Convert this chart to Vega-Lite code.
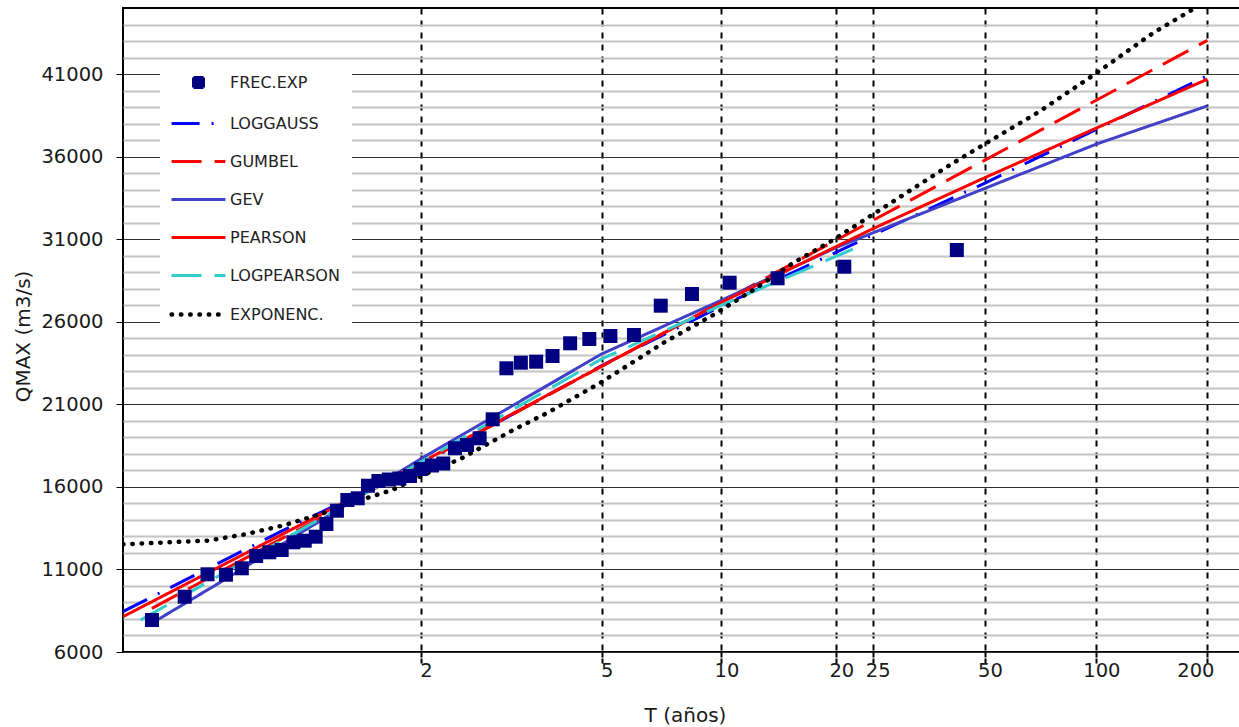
{
  "$schema": "https://vega.github.io/schema/vega-lite/v6.json",
  "width": 1117,
  "height": 644,
  "autosize": "none",
  "padding": {"left": 123, "top": 8, "right": 0, "bottom": 75},
  "background": "white",
  "config": {
    "view": {"stroke": "black", "strokeWidth": 2},
    "font": "DejaVu Sans"
  },
  "data": {
    "values": [
      {"serie": "FREC.EXP", "u": 3.7255, "q": 30345},
      {"serie": "FREC.EXP", "u": 3.0203, "q": 29334},
      {"serie": "FREC.EXP", "u": 2.6023, "q": 28631},
      {"serie": "FREC.EXP", "u": 2.3017, "q": 28365},
      {"serie": "FREC.EXP", "u": 2.0655, "q": 27680},
      {"serie": "FREC.EXP", "u": 1.8698, "q": 26972},
      {"serie": "FREC.EXP", "u": 1.7020, "q": 25198},
      {"serie": "FREC.EXP", "u": 1.5544, "q": 25137},
      {"serie": "FREC.EXP", "u": 1.4223, "q": 24955},
      {"serie": "FREC.EXP", "u": 1.3022, "q": 24695},
      {"serie": "FREC.EXP", "u": 1.1918, "q": 23926},
      {"serie": "FREC.EXP", "u": 1.0892, "q": 23581},
      {"serie": "FREC.EXP", "u": 0.9933, "q": 23520},
      {"serie": "FREC.EXP", "u": 0.9027, "q": 23181},
      {"serie": "FREC.EXP", "u": 0.8168, "q": 20092},
      {"serie": "FREC.EXP", "u": 0.7349, "q": 18942},
      {"serie": "FREC.EXP", "u": 0.6562, "q": 18536},
      {"serie": "FREC.EXP", "u": 0.5805, "q": 18336},
      {"serie": "FREC.EXP", "u": 0.5072, "q": 17416},
      {"serie": "FREC.EXP", "u": 0.4361, "q": 17294},
      {"serie": "FREC.EXP", "u": 0.3665, "q": 17082},
      {"serie": "FREC.EXP", "u": 0.2985, "q": 16659},
      {"serie": "FREC.EXP", "u": 0.2316, "q": 16507},
      {"serie": "FREC.EXP", "u": 0.1657, "q": 16447},
      {"serie": "FREC.EXP", "u": 0.1004, "q": 16356},
      {"serie": "FREC.EXP", "u": 0.0355, "q": 16071},
      {"serie": "FREC.EXP", "u": -0.0292, "q": 15308},
      {"serie": "FREC.EXP", "u": -0.0940, "q": 15205},
      {"serie": "FREC.EXP", "u": -0.1593, "q": 14557},
      {"serie": "FREC.EXP", "u": -0.2253, "q": 13752},
      {"serie": "FREC.EXP", "u": -0.2925, "q": 12983},
      {"serie": "FREC.EXP", "u": -0.3612, "q": 12740},
      {"serie": "FREC.EXP", "u": -0.4321, "q": 12643},
      {"serie": "FREC.EXP", "u": -0.5057, "q": 12177},
      {"serie": "FREC.EXP", "u": -0.5831, "q": 12038},
      {"serie": "FREC.EXP", "u": -0.6657, "q": 11814},
      {"serie": "FREC.EXP", "u": -0.7553, "q": 11069},
      {"serie": "FREC.EXP", "u": -0.8549, "q": 10680},
      {"serie": "FREC.EXP", "u": -0.9704, "q": 10706},
      {"serie": "FREC.EXP", "u": -1.1133, "q": 9349},
      {"serie": "FREC.EXP", "u": -1.3185, "q": 7938},

      {"serie": "LOGGAUSS", "u": -1.5, "q": 8450},
      {"serie": "LOGGAUSS", "u": -1.0, "q": 10900},
      {"serie": "LOGGAUSS", "u": -0.5, "q": 13350},
      {"serie": "LOGGAUSS", "u": 0.3665, "q": 17350},
      {"serie": "LOGGAUSS", "u": 1.4999, "q": 23350},
      {"serie": "LOGGAUSS", "u": 2.2504, "q": 26950},
      {"serie": "LOGGAUSS", "u": 3.1985, "q": 31250},
      {"serie": "LOGGAUSS", "u": 3.9019, "q": 34400},
      {"serie": "LOGGAUSS", "u": 4.6001, "q": 37650},
      {"serie": "LOGGAUSS", "u": 5.2958, "q": 40900},

      {"serie": "GUMBEL", "u": -1.3185, "q": 8640},
      {"serie": "GUMBEL", "u": 0.3665, "q": 17400},
      {"serie": "GUMBEL", "u": 2.2504, "q": 27200},
      {"serie": "GUMBEL", "u": 3.9019, "q": 35790},
      {"serie": "GUMBEL", "u": 5.2958, "q": 43040},

      {"serie": "GEV", "u": -1.3185, "q": 7750},
      {"serie": "GEV", "u": -0.849, "q": 10460},
      {"serie": "GEV", "u": 0.3665, "q": 17700},
      {"serie": "GEV", "u": 1.4999, "q": 24050},
      {"serie": "GEV", "u": 2.2504, "q": 27300},
      {"serie": "GEV", "u": 2.9702, "q": 30500},
      {"serie": "GEV", "u": 3.9019, "q": 34080},
      {"serie": "GEV", "u": 4.6001, "q": 36760},
      {"serie": "GEV", "u": 5.2958, "q": 39070},

      {"serie": "PEARSON", "u": -1.5, "q": 8140},
      {"serie": "PEARSON", "u": 0.3665, "q": 17470},
      {"serie": "PEARSON", "u": 2.2504, "q": 27175},
      {"serie": "PEARSON", "u": 3.1985, "q": 31630},
      {"serie": "PEARSON", "u": 3.9019, "q": 34730},
      {"serie": "PEARSON", "u": 4.6001, "q": 37730},
      {"serie": "PEARSON", "u": 5.2958, "q": 40690},

      {"serie": "LOGPEARSON", "u": -1.39, "q": 7940},
      {"serie": "LOGPEARSON", "u": 0.3665, "q": 17500},
      {"serie": "LOGPEARSON", "u": 1.4999, "q": 23750},
      {"serie": "LOGPEARSON", "u": 2.2504, "q": 27000},
      {"serie": "LOGPEARSON", "u": 3.088, "q": 30450},

      {"serie": "EXPONENC.", "u": -1.5, "q": 12520},
      {"serie": "EXPONENC.", "u": -1.2171, "q": 12643},
      {"serie": "EXPONENC.", "u": -0.9727, "q": 12740},
      {"serie": "EXPONENC.", "u": -0.7346, "q": 13128},
      {"serie": "EXPONENC.", "u": -0.5027, "q": 13649},
      {"serie": "EXPONENC.", "u": -0.2646, "q": 14339},
      {"serie": "EXPONENC.", "u": -0.0452, "q": 15102},
      {"serie": "EXPONENC.", "u": 0.1866, "q": 15811},
      {"serie": "EXPONENC.", "u": 0.3809, "q": 16719},
      {"serie": "EXPONENC.", "u": 0.6253, "q": 17749},
      {"serie": "EXPONENC.", "u": 0.9449, "q": 19444},
      {"serie": "EXPONENC.", "u": 1.158, "q": 20474},
      {"serie": "EXPONENC.", "u": 1.4901, "q": 22291},
      {"serie": "EXPONENC.", "u": 1.8849, "q": 24713},
      {"serie": "EXPONENC.", "u": 2.1982, "q": 26409},
      {"serie": "EXPONENC.", "u": 2.4489, "q": 27923},
      {"serie": "EXPONENC.", "u": 2.6995, "q": 29558},
      {"serie": "EXPONENC.", "u": 2.9502, "q": 30951},
      {"serie": "EXPONENC.", "u": 3.2134, "q": 32586},
      {"serie": "EXPONENC.", "u": 3.7022, "q": 35614},
      {"serie": "EXPONENC.", "u": 3.9215, "q": 36886},
      {"serie": "EXPONENC.", "u": 4.2286, "q": 38642},
      {"serie": "EXPONENC.", "u": 4.592, "q": 41004},
      {"serie": "EXPONENC.", "u": 4.9555, "q": 43487},
      {"serie": "EXPONENC.", "u": 5.2958, "q": 45450}
    ]
  },
  "encoding": {
    "x": {
      "field": "u",
      "type": "quantitative",
      "scale": {"domain": [-1.5, 5.5], "nice": false, "zero": false},
      "axis": {
        "title": "T (años)",
        "values": [0.36651, 1.49994, 2.25037, 2.9702, 3.19853, 3.90194, 4.60015, 5.29581],
        "labelExpr": "format(round(1/(1-exp(-exp(-datum.value)))), 'd')",
        "grid": true,
        "gridColor": "black",
        "gridDash": [6, 6],
        "gridWidth": 2,
        "ticks": true,
        "tickSize": 11,
        "tickWidth": 2,
        "tickColor": "black",
        "tickDash": [5, 1, 5],
        "domain": false,
        "labelOverlap": false,
        "labelFont": "DejaVu Sans",
        "labelFontSize": 19.5,
        "labelColor": "#1a1a1a",
        "labelPadding": -2,
        "labelOffset": {"condition": {"test": "datum.value > 5", "value": -12}, "value": 5},
        "titleFont": "DejaVu Sans",
        "titleFontSize": 20,
        "titleFontWeight": "normal",
        "titleColor": "#1a1a1a",
        "titleX": 562,
        "titleY": 69,
        "titleBaseline": "alphabetic"
      }
    },
    "y": {
      "field": "q",
      "type": "quantitative",
      "scale": {"domain": [6000, 45000], "nice": false, "zero": false},
      "axis": {
        "title": "QMAX (m3/s)",
        "values": [6000, 7000, 8000, 9000, 10000, 11000, 12000, 13000, 14000, 15000, 16000, 17000, 18000, 19000, 20000, 21000, 22000, 23000, 24000, 25000, 26000, 27000, 28000, 29000, 30000, 31000, 32000, 33000, 34000, 35000, 36000, 37000, 38000, 39000, 40000, 41000, 42000, 43000, 44000],
        "labelExpr": "datum.value % 5000 === 1000 ? format(datum.value, 'd') : ''",
        "labelOverlap": false,
        "labelFont": "DejaVu Sans",
        "labelFontSize": 19.5,
        "labelColor": "#1a1a1a",
        "labelPadding": 13,
        "tickSize": 7,
        "tickColor": "black",
        "tickWidth": 1,
        "tickOpacity": {"condition": {"test": "datum.value % 5000 === 1000", "value": 1}, "value": 0},
        "grid": true,
        "gridColor": {"condition": {"test": "datum.value % 5000 === 1000", "value": "#303030"}, "value": "#c4c4c4"},
        "gridWidth": {"condition": {"test": "datum.value % 5000 === 1000", "value": 1.2}, "value": 2},
        "domain": false,
        "titleFont": "DejaVu Sans",
        "titleFontSize": 20,
        "titleFontWeight": "normal",
        "titleColor": "#1a1a1a",
        "titleAngle": -90,
        "titleX": -94,
        "titleY": 328,
        "titleAlign": "center",
        "titleBaseline": "alphabetic"
      }
    },
    "color": {
      "field": "serie",
      "type": "nominal",
      "scale": {
        "domain": ["FREC.EXP", "LOGGAUSS", "GUMBEL", "GEV", "PEARSON", "LOGPEARSON", "EXPONENC."],
        "range": ["#000080", "#0000ff", "#ff0000", "#4040c8", "#ff0000", "#33cccc", "#000000"]
      },
      "legend": {
        "orient": "none",
        "legendX": 37,
        "legendY": 55,
        "title": null,
        "fillColor": "white",
        "padding": 11.5,
        "symbolType": "stroke",
        "symbolSize": 2900,
        "symbolStrokeWidth": 3,
        "symbolOffset": 19,
        "labelFont": "DejaVu Sans",
        "labelFontSize": 16,
        "labelColor": "#222222",
        "labelOffset": 23.5,
        "labelLimit": 300,
        "rowPadding": 22,
        "encode": {
          "symbols": {
            "update": {
              "shape": {"signal": "datum.value === 'FREC.EXP' ? 'square' : 'stroke'"},
              "size": {"signal": "datum.value === 'FREC.EXP' ? 100 : 2900"},
              "fill": {"signal": "datum.value === 'FREC.EXP' ? '#000080' : 'transparent'"},
              "stroke": {"signal": "datum.value === 'FREC.EXP' ? 'transparent' : scale('color', datum.value)"},
              "strokeWidth": {"signal": "datum.value === 'EXPONENC.' ? 4.5 : 3"},
              "strokeCap": {"signal": "datum.value === 'EXPONENC.' ? 'round' : 'butt'"},
              "strokeDash": {"signal": "datum.value === 'LOGGAUSS' ? [28, 12, 2, 12] : (datum.value === 'GUMBEL' || datum.value === 'LOGPEARSON') ? [30, 13] : datum.value === 'EXPONENC.' ? [0.5, 8.8] : [1, 0]"},
              "opacity": {"value": 1}
            }
          }
        }
      }
    }
  },
  "layer": [
    {
      "transform": [{"filter": "datum.serie !== 'FREC.EXP' && datum.serie !== 'EXPONENC.'"}],
      "mark": {"type": "line", "strokeWidth": 3, "clip": true},
      "encoding": {
        "strokeDash": {
          "field": "serie",
          "type": "nominal",
          "scale": {
            "domain": ["LOGGAUSS", "GUMBEL", "GEV", "PEARSON", "LOGPEARSON"],
            "range": [[27, 12, 2, 12], [29, 12], [1, 0], [1, 0], [30, 13]]
          },
          "legend": null
        }
      }
    },
    {
      "transform": [{"filter": "datum.serie === 'EXPONENC.'"}],
      "mark": {"type": "line", "strokeWidth": 4.5, "strokeCap": "round", "strokeDash": [0.5, 8.8], "clip": true},
      "encoding": {}
    },
    {
      "transform": [{"filter": "datum.serie === 'FREC.EXP'"}],
      "mark": {"type": "point", "shape": "square", "filled": true, "size": 196, "opacity": 1},
      "encoding": {}
    }
  ]
}
